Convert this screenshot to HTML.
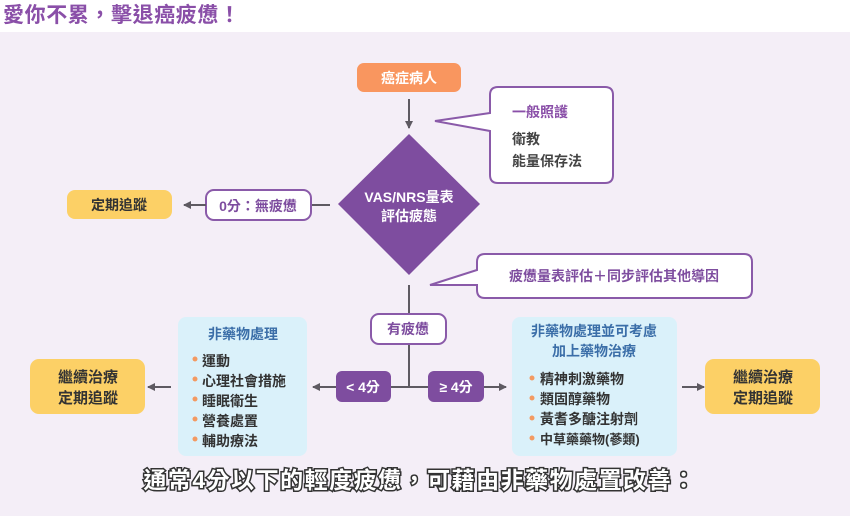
<!DOCTYPE html>
<html><head><meta charset="utf-8"><style>
html,body{margin:0;padding:0;width:850px;height:516px;overflow:hidden;background:#fff}
svg{display:block}
text{font-family:"Liberation Sans","Noto Sans CJK TC",sans-serif;font-weight:bold}
</style></head><body>
<svg width="850" height="516" viewBox="0 0 850 516" xmlns="http://www.w3.org/2000/svg">
<defs>
<marker id="ar" markerWidth="8" markerHeight="8" refX="7" refY="4" orient="auto" markerUnits="userSpaceOnUse"><path d="M0,0 L8,4 L0,8 Z" fill="#5e5a62"/></marker>
</defs>
<rect x="0" y="0" width="850" height="32" fill="#fff"/>
<rect x="0" y="32" width="850" height="484" fill="#f4eef7"/>
<text x="3" y="22" font-size="21" letter-spacing="0.6" fill="#8a4fa8">愛你不累，擊退癌疲憊！</text>

<rect x="357" y="63" width="104" height="29" rx="7" fill="#f9965f"/>
<text x="409" y="83" font-size="14" fill="#fff" text-anchor="middle">癌症病人</text>
<line x1="409" y1="99" x2="409" y2="128" stroke="#5e5a62" stroke-width="2" marker-end="url(#ar)"/>

<polygon points="409,134 480,204 409,275 338,204" fill="#7e4d9f"/>
<text x="409" y="202" font-size="14" fill="#fff" text-anchor="middle">VAS/NRS量表</text>
<text x="409" y="221" font-size="14" fill="#fff" text-anchor="middle">評估疲態</text>

<path d="M498,87 H605 Q613,87 613,95 V175 Q613,183 605,183 H498 Q490,183 490,175 V131 L435,121 L490,113 V95 Q490,87 498,87 Z" fill="#fff" stroke="#8a5aa9" stroke-width="2"/>
<text x="512" y="117" font-size="14" fill="#8a4fa8">一般照護</text>
<text x="512" y="144" font-size="14" fill="#444">衛教</text>
<text x="512" y="166" font-size="14" fill="#444">能量保存法</text>

<line x1="330" y1="205" x2="311" y2="205" stroke="#5e5a62" stroke-width="2"/>
<rect x="206" y="190" width="105" height="30" rx="8" fill="#fff" stroke="#8a5aa9" stroke-width="2"/>
<text x="258" y="211" font-size="14" fill="#7e4d9f" text-anchor="middle">0分：無疲憊</text>
<line x1="206" y1="205" x2="184" y2="205" stroke="#5e5a62" stroke-width="2" marker-end="url(#ar)"/>
<rect x="67" y="190" width="105" height="29" rx="8" fill="#fcd066"/>
<text x="119" y="210" font-size="14" fill="#333" text-anchor="middle">定期追蹤</text>

<path d="M485,254 H744 Q752,254 752,262 V290 Q752,298 744,298 H485 Q477,298 477,290 V285 L430,285 L477,270 V262 Q477,254 485,254 Z" fill="#fff" stroke="#8a5aa9" stroke-width="2"/>
<text x="614" y="281" font-size="14" fill="#7e4d9f" text-anchor="middle">疲憊量表評估＋同步評估其他導因</text>

<line x1="409" y1="285" x2="409" y2="387" stroke="#5e5a62" stroke-width="2"/>
<rect x="371" y="314" width="75" height="30" rx="8" fill="#fff" stroke="#8a5aa9" stroke-width="2"/>
<text x="408" y="334" font-size="14" fill="#7e4d9f" text-anchor="middle">有疲憊</text>
<line x1="314" y1="387" x2="505" y2="387" stroke="#5e5a62" stroke-width="2"/>
<line x1="330" y1="387" x2="313" y2="387" stroke="#5e5a62" stroke-width="2" marker-end="url(#ar)"/>
<line x1="490" y1="387" x2="506" y2="387" stroke="#5e5a62" stroke-width="2" marker-end="url(#ar)"/>
<rect x="336" y="371" width="55" height="31" rx="6" fill="#7e4d9f"/>
<text x="363" y="392" font-size="14" fill="#fff" text-anchor="middle">&lt; 4分</text>
<rect x="428" y="371" width="56" height="31" rx="6" fill="#7e4d9f"/>
<text x="456" y="392" font-size="14" fill="#fff" text-anchor="middle">≥ 4分</text>

<rect x="178" y="317" width="129" height="139" rx="8" fill="#daf1fa"/>
<text x="243" y="339" font-size="14" fill="#3b6ea8" text-anchor="middle">非藥物處理</text>
<g font-size="14" fill="#333">
<text x="202" y="366">運動</text>
<text x="202" y="386">心理社會措施</text>
<text x="202" y="406">睡眠衛生</text>
<text x="202" y="426">營養處置</text>
<text x="202" y="446">輔助療法</text>
</g>
<g fill="#f39a62">
<circle cx="195" cy="359" r="2.5"/><circle cx="195" cy="379" r="2.5"/><circle cx="195" cy="399" r="2.5"/><circle cx="195" cy="419" r="2.5"/><circle cx="195" cy="439" r="2.5"/>
</g>
<line x1="171" y1="387" x2="148" y2="387" stroke="#5e5a62" stroke-width="2" marker-end="url(#ar)"/>
<rect x="30" y="359" width="115" height="55" rx="9" fill="#fcd066"/>
<text x="88" y="382" font-size="15" fill="#333" text-anchor="middle">繼續治療</text>
<text x="88" y="403" font-size="15" fill="#333" text-anchor="middle">定期追蹤</text>

<rect x="512" y="317" width="165" height="139" rx="8" fill="#daf1fa"/>
<text x="594" y="336" font-size="14" fill="#3b6ea8" text-anchor="middle">非藥物處理並可考慮</text>
<text x="594" y="356" font-size="14" fill="#3b6ea8" text-anchor="middle">加上藥物治療</text>
<g font-size="14" fill="#333">
<text x="540" y="384">精神刺激藥物</text>
<text x="540" y="404">類固醇藥物</text>
<text x="540" y="424">黃耆多醣注射劑</text>
<text x="540" y="444" font-size="13">中草藥藥物(蔘類)</text>
</g>
<g fill="#f39a62">
<circle cx="532" cy="378" r="2.5"/><circle cx="532" cy="398" r="2.5"/><circle cx="532" cy="418" r="2.5"/><circle cx="532" cy="438" r="2.5"/>
</g>
<line x1="682" y1="387" x2="704" y2="387" stroke="#5e5a62" stroke-width="2" marker-end="url(#ar)"/>
<rect x="705" y="359" width="115" height="55" rx="9" fill="#fcd066"/>
<text x="763" y="382" font-size="15" fill="#333" text-anchor="middle">繼續治療</text>
<text x="763" y="403" font-size="15" fill="#333" text-anchor="middle">定期追蹤</text>

<text x="420" y="488" font-size="23" letter-spacing="1.5" fill="#fff" stroke="#333" stroke-width="3" paint-order="stroke" text-anchor="middle">通常4分以下的輕度疲憊，可藉由非藥物處置改善：</text>
</svg>
</body></html>
